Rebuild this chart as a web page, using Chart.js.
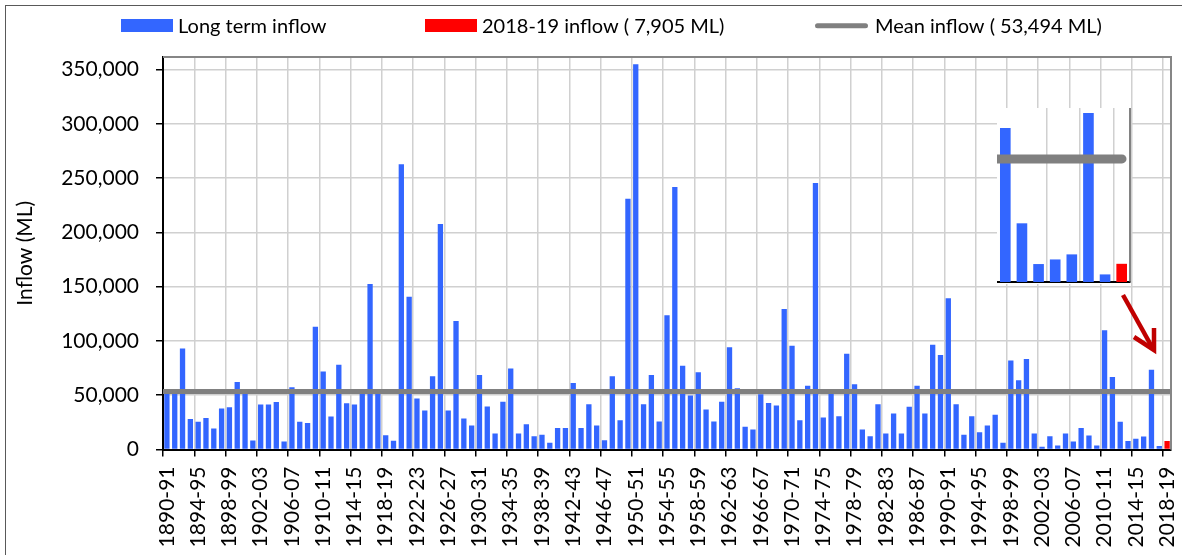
<!DOCTYPE html>
<html><head><meta charset="utf-8">
<script src="https://cdn.jsdelivr.net/npm/chart.js@4/dist/chart.umd.min.js"></script>
<style>
html,body{margin:0;padding:0;background:#fff;overflow:hidden;}
#wrap{position:relative;width:1182px;height:555px;overflow:hidden;}
#frame{position:absolute;left:5px;top:5px;width:1300px;height:700px;border:1px solid #595959;box-sizing:border-box;}
#main{position:absolute;left:0;top:0;}
#inset{position:absolute;left:997px;top:108px;background:#fff;}
</style></head><body>
<div id="wrap"><div id="frame"></div>
<canvas id="main" width="1182" height="555"></canvas>
<canvas id="inset" width="134" height="176"></canvas></div>
<script>
// ---- data ----
const seasons = [
"1890-91","1891-92","1892-93","1893-94","1894-95","1895-96","1896-97","1897-98","1898-99","1899-00",
"1900-01","1901-02","1902-03","1903-04","1904-05","1905-06","1906-07","1907-08","1908-09","1909-10",
"1910-11","1911-12","1912-13","1913-14","1914-15","1915-16","1916-17","1917-18","1918-19","1919-20",
"1920-21","1921-22","1922-23","1923-24","1924-25","1925-26","1926-27","1927-28","1928-29","1929-30",
"1930-31","1931-32","1932-33","1933-34","1934-35","1935-36","1936-37","1937-38","1938-39","1939-40",
"1940-41","1941-42","1942-43","1943-44","1944-45","1945-46","1946-47","1947-48","1948-49","1949-50",
"1950-51","1951-52","1952-53","1953-54","1954-55","1955-56","1956-57","1957-58","1958-59","1959-60",
"1960-61","1961-62","1962-63","1963-64","1964-65","1965-66","1966-67","1967-68","1968-69","1969-70",
"1970-71","1971-72","1972-73","1973-74","1974-75","1975-76","1976-77","1977-78","1978-79","1979-80",
"1980-81","1981-82","1982-83","1983-84","1984-85","1985-86","1986-87","1987-88","1988-89","1989-90",
"1990-91","1991-92","1992-93","1993-94","1994-95","1995-96","1996-97","1997-98","1998-99","1999-00",
"2000-01","2001-02","2002-03","2003-04","2004-05","2005-06","2006-07","2007-08","2008-09","2009-10",
"2010-11","2011-12","2012-13","2013-14","2014-15","2015-16","2016-17","2017-18","2018-19"
];
// Long term inflow (ML), 1890-91 to 2017-18
const longTermInflow = [
53000, 52000, 93000, 28000, 25500, 29000, 19300, 37700, 38900, 62200,
53000, 8300, 41400, 41400, 43800, 7400, 57300, 25500, 24500, 113200,
71900, 30400, 78100, 42600, 41400, 53000, 152400, 52000, 13200, 8000,
262800, 140800, 46900, 35900, 67400, 207700, 35900, 118400, 28500, 22100,
68600, 39500, 14800, 44100, 74700, 14800, 23300, 12300, 13500, 6200,
19700, 19700, 61200, 19700, 41700, 22100, 8600, 67400, 27000, 231000,
355000, 41700, 68600, 25800, 123700, 241800, 77200, 49800, 71100, 36800,
25800, 44100, 94300, 56400, 20900, 18400, 51000, 42900, 40500, 129500,
95600, 27000, 58800, 245500, 29500, 54500, 30700, 88200, 60100, 18400,
12300, 41700, 14800, 33100, 14800, 39300, 58800, 33100, 96500, 87000,
139300, 41700, 13500, 30700, 16000, 22100, 31900, 6200, 82100, 63700,
83300, 14800, 2500, 12300, 3800, 14800, 7400, 19700, 12900, 3800,
109900, 66900, 25500, 7800, 9800, 12000, 73400, 3300
];
const currentSeason = "2018-19";
const inflowCurrent = 7905;
const meanInflow = 53494;
const yTickValues = [0, 50000, 100000, 150000, 200000, 250000, 300000, 350000];
const insetFirstSeason = "2011-12";

// ---- styles ----
const BLUE = '#3366ff', RED = '#ff0000', GREY = '#808080', GRID = '#d0d0d0', NONE = 'rgba(0,0,0,0)';
Chart.defaults.font.family = 'Lato';
Chart.defaults.color = '#000';
const fmt = v => Number(v).toLocaleString('en-US');
const n = seasons.length;
const curIdx = seasons.indexOf(currentSeason);
const redData = seasons.map((s, i) => i === curIdx ? inflowCurrent : null);

const legendPlugin = {
  id: 'customLegend',
  afterDraw(chart) {
    const ctx = chart.ctx;
    const xs = [121, 425, 815];
    ctx.save();
    ctx.font = '20px Lato';
    ctx.textBaseline = 'alphabetic';
    chart.data.datasets.forEach((ds, i) => {
      const x = xs[i];
      let tx;
      if (ds.type === 'line') {
        ctx.strokeStyle = ds.borderColor; ctx.lineWidth = 5; ctx.lineCap = 'round';
        ctx.beginPath(); ctx.moveTo(x + 2.5, 25.7); ctx.lineTo(x + 50.5, 25.7); ctx.stroke();
        tx = x + 60;
      } else {
        ctx.fillStyle = ds.backgroundColor; ctx.fillRect(x, 19, 52, 13);
        tx = x + 57;
      }
      ctx.fillStyle = '#000';
      ctx.fillText(ds.label, tx, 33);
    });
    ctx.restore();
  }
};

const framePlugin = {
  id: 'plotFrame',
  afterDraw(chart) {
    const {ctx, chartArea: a} = chart;
    ctx.save();
    ctx.strokeStyle = '#868686'; ctx.lineWidth = 2;
    ctx.beginPath(); ctx.moveTo(a.left, a.top); ctx.lineTo(a.right, a.top); ctx.lineTo(a.right, a.bottom); ctx.stroke();
    // red annotation arrow
    ctx.strokeStyle = '#c00000'; ctx.lineWidth = 4.5; ctx.lineCap = 'butt'; ctx.lineJoin = 'miter';
    ctx.beginPath(); ctx.moveTo(1123, 295); ctx.lineTo(1152, 347); ctx.stroke();
    ctx.beginPath(); ctx.moveTo(1134, 337); ctx.lineTo(1154, 350); ctx.lineTo(1154, 328); ctx.stroke();
    ctx.restore();
  }
};

new Chart(document.getElementById('main'), {
  type: 'bar',
  data: {
    labels: seasons,
    datasets: [
      {label: 'Long term inflow', data: longTermInflow, backgroundColor: BLUE, order: 2},
      {label: currentSeason + ' inflow ( ' + fmt(inflowCurrent) + ' ML)', data: redData, backgroundColor: RED, order: 1},
      {type: 'line', label: 'Mean inflow ( ' + fmt(meanInflow) + ' ML)', xAxisID: 'xMean',
       data: [{x: 0, y: meanInflow}, {x: 1, y: meanInflow}],
       borderColor: GREY, borderWidth: 5, pointRadius: 0, order: 0}
    ]
  },
  options: {
    responsive: false, animation: false, devicePixelRatio: 1,
    layout: {padding: {left: 0, right: 11, top: 57, bottom: 0}},
    datasets: {bar: {barPercentage: 0.68, categoryPercentage: 1, grouped: false}},
    plugins: {legend: {display: false}, tooltip: {enabled: false}},
    scales: {
      x: {
        type: 'category', offset: true,
        grid: {
          offset: true, lineWidth: 1.5, tickLength: 7, tickWidth: 1.5,
          color: c => (c.index % 4 === 0 && c.index > 0 && c.index < n) ? GRID : NONE,
          tickColor: c => (c.index % 4 === 0 && c.index < n) ? '#000' : NONE
        },
        border: {color: '#000', width: 2},
        ticks: {
          autoSkip: false, maxRotation: 90, minRotation: 90, padding: 10,
          font: {size: 21}, color: '#000',
          callback(v, i) { return i % 4 === 0 ? this.getLabelForValue(v) : ''; }
        },
        afterFit(s) { s.height = 105.5; s.paddingLeft = 0; s.paddingRight = 0; }
      },
      xMean: {type: 'linear', min: 0, max: 1, display: false, offset: false, grid: {offset: false}},
      y: {
        min: 0, max: 361600,
        afterBuildTicks(s) { s.ticks = yTickValues.map(v => ({value: v})); },
        grid: {color: GRID, lineWidth: 1.5, tickColor: '#000', tickLength: 7, tickWidth: 1.5},
        border: {color: '#000', width: 2},
        ticks: {padding: 17, font: {size: 21}, color: '#000', callback: v => fmt(v)},
        title: {display: true, text: 'Inflow (ML)', font: {size: 21}, color: '#000', padding: {top: 13, bottom: 0}},
        afterFit(s) { s.width = 163; s.paddingTop = 0; s.paddingBottom = 0; }
      }
    }
  },
  plugins: [legendPlugin, framePlugin]
});

// ---- inset (zoom of last seasons) ----
const insetStart = seasons.indexOf(insetFirstSeason);
const insetLabels = seasons.slice(insetStart);
const insetBlue = longTermInflow.slice(insetStart);
const insetRed = redData.slice(insetStart);
new Chart(document.getElementById('inset'), {
  type: 'bar',
  data: {
    labels: insetLabels,
    datasets: [
      {data: insetBlue, backgroundColor: BLUE, order: 2},
      {data: insetRed, backgroundColor: RED, order: 1},
      {type: 'line', xAxisID: 'xMean', data: [{x: 0, y: meanInflow}, {x: 1, y: meanInflow}],
       borderColor: GREY, borderWidth: 9, borderCapStyle: 'round', pointRadius: 0, order: 0}
    ]
  },
  options: {
    responsive: false, animation: false, devicePixelRatio: 1,
    layout: {padding: {left: 0, right: 1, top: 0, bottom: 0}},
    datasets: {bar: {barPercentage: 0.64, categoryPercentage: 1, grouped: false}},
    plugins: {legend: {display: false}, tooltip: {enabled: false}},
    scales: {
      x: {
        offset: true,
        grid: {offset: true, drawTicks: false, lineWidth: 1.5,
               color: c => (c.index % 2 === 1 && c.index >= 3 && c.index < insetLabels.length) ? GRID : NONE},
        border: {color: '#000', width: 2},
        ticks: {display: false},
        afterFit(s) { s.height = 2; }
      },
      xMean: {type: 'linear', min: 0, max: 1.064, display: false, offset: false, grid: {offset: false}},
      y: {display: false, min: 0, max: 75600}
    }
  },
  plugins: [{
    id: 'insetFrame',
    afterDraw(chart) {
      const {ctx, chartArea: a} = chart;
      ctx.save(); ctx.strokeStyle = '#595959'; ctx.lineWidth = 1.5;
      ctx.beginPath(); ctx.moveTo(a.right, 0); ctx.lineTo(a.right, a.bottom); ctx.stroke();
      ctx.restore();
    }
  }]
});
</script>
</body></html>
